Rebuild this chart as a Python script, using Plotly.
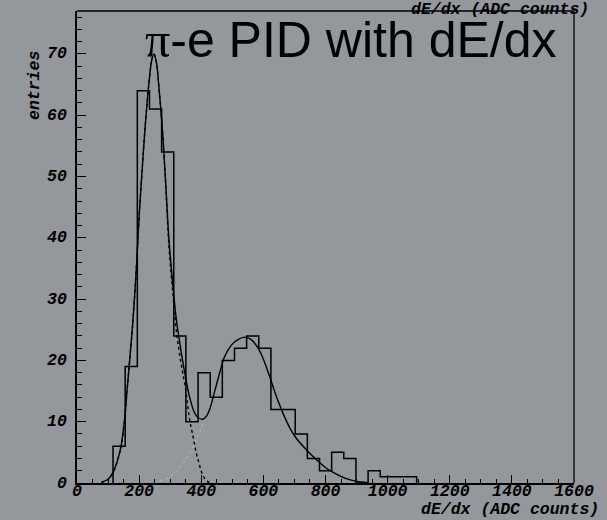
import plotly.graph_objects as go

# ---------------- data ----------------
bin_start = 116.0
bin_width = 39.1
counts = [6, 19, 64, 61, 54, 24, 10, 18, 14, 20, 22, 24, 22, 12, 12, 8, 4, 2, 5, 4, 0, 2, 1, 1, 1]

# total fit curve
fit_x = [78, 100, 115, 131, 142, 153, 161, 167, 180, 191, 200, 209, 220, 232, 240, 247, 255, 263,
         275, 286, 296, 309, 320, 336, 349, 362, 379, 392, 405, 418, 427, 443, 459, 475, 497, 518,
         540, 561, 583, 600, 620, 642, 663, 685, 706, 739, 771, 803, 835, 867, 900, 932]
fit_y = [0.1, 0.6, 1.6, 3.8, 6.0, 10.3, 15.0, 18.5, 26.4, 35.0, 43.5, 50.5, 58.5, 65.5, 68.8, 70.0, 68.8, 65.0,
         57.6, 48.5, 39.7, 32.1, 26.6, 21.2, 17.4, 14.1, 11.4, 10.6, 10.4, 11.0, 12.0, 14.9, 17.9, 20.6, 22.5, 23.4,
         23.8, 23.4, 22.0, 20.2, 17.4, 14.1, 11.4, 9.0, 7.3, 5.4, 3.8, 2.4, 1.45, 0.7, 0.26, 0.1]

# pion component (dotted)
pi_x = [78, 100, 115, 131, 142, 153, 161, 167, 180, 191, 200, 209, 220, 232, 240, 247, 255, 263,
        275, 286, 296, 309, 320, 335, 349, 362, 374, 384, 392, 400, 408, 416, 425, 435]
pi_y = [0.1, 0.6, 1.6, 3.8, 6.0, 10.3, 15.0, 18.5, 26.4, 35.0, 43.5, 50.5, 58.5, 65.5, 68.8, 70.0, 68.8, 65.0,
        57.6, 48.2, 38.6, 30.7, 24.7, 19.5, 15.5, 10.5, 7.5, 4.9, 3.4, 1.9, 1.0, 0.4, 0.12, 0.03]

# electron component (light dotted, left part)
e_x = [266, 293, 325, 357, 384, 411]
e_y = [0.4, 0.8, 2.2, 4.3, 7.1, 10.3]

x_range = [0, 1600]
y_range = [0, 77]
y_ticks = [0, 10, 20, 30, 40, 50, 60, 70]
title_text = '<span style="font-family:\'Liberation Serif\'">π</span>-e PID with dE/dx'
x_title = "dE/dx (ADC counts)"
y_title = "entries"

# ---------------- figure ----------------
edges = [bin_start + i * bin_width for i in range(len(counts) + 1)]
hx = [edges[0]] + edges[:-1] + [edges[-1], edges[-1]]
hy = [0] + counts + [counts[-1], 0]

bg = "rgb(148,151,156)"
mono = "Liberation Mono"
lab_font = dict(family=mono, size=16.5, color="black", weight="bold", style="italic")

fig = go.Figure()
fig.add_trace(go.Scatter(x=hx, y=hy, mode="lines", line=dict(shape="hv", color="black", width=1.5),
                         hoverinfo="skip"))
fig.add_trace(go.Scatter(x=e_x, y=e_y, mode="lines", line=dict(shape="spline", color="rgb(185,187,190)",
                         width=1, dash="dot"), hoverinfo="skip"))
fig.add_trace(go.Scatter(x=pi_x, y=pi_y, mode="lines", line=dict(shape="spline", color="black",
                         width=1.4, dash="dot"), hoverinfo="skip"))
fig.add_trace(go.Scatter(x=fit_x, y=fit_y, mode="lines", line=dict(shape="spline", color="black", width=1.4),
                         hoverinfo="skip"))

annotations = [
    dict(text=title_text, xref="paper", yref="paper", x=(143 - 77) / 497, y=(483 - 40) / 472,
         xanchor="left", yanchor="middle", showarrow=False,
         font=dict(family="Liberation Sans", size=50, color="black")),
    dict(text=x_title, xref="paper", yref="paper", x=(591 - 77) / 497, y=(483 - 10) / 472,
         xanchor="right", yanchor="middle", showarrow=False, font=lab_font),
    dict(text=x_title, xref="paper", yref="paper", x=(600 - 77) / 497, y=(483 - 509.5) / 472,
         xanchor="right", yanchor="middle", showarrow=False, font=lab_font, borderpad=0),
    dict(text=y_title, xref="paper", yref="paper", x=(34 - 77) / 497, y=(483 - 86) / 472,
         xanchor="center", yanchor="middle", showarrow=False, textangle=-90, font=lab_font),
]
for t in y_ticks:
    annotations.append(dict(text=str(t), xref="paper", yref="y", x=(69 - 77) / 497, y=t,
                            xanchor="right", yanchor="middle", showarrow=False, font=lab_font))

fig.update_layout(
    width=607, height=520,
    margin=dict(l=77, r=33, t=11, b=37),
    paper_bgcolor=bg, plot_bgcolor=bg,
    showlegend=False,
    xaxis=dict(range=x_range, showgrid=False, zeroline=False, showline=True, linecolor="black", linewidth=2.2,
               ticks="inside", ticklen=8, tickwidth=1.3, tickcolor="black", dtick=200, tick0=0,
               minor=dict(ticks="inside", ticklen=4, dtick=50, tickwidth=1.2, tickcolor="black"),
               tickfont=lab_font, ticklabelstandoff=-9),
    yaxis=dict(range=y_range, showgrid=False, zeroline=False, showline=True, linecolor="black", linewidth=2.2,
               ticks="inside", ticklen=9, tickwidth=1.3, tickcolor="black", tickvals=y_ticks,
               showticklabels=False,
               minor=dict(ticks="inside", ticklen=4.5, dtick=2, tickwidth=1.2, tickcolor="black")),
    shapes=[
        dict(type="line", xref="paper", yref="paper", x0=0, x1=1, y0=1, y1=1,
             line=dict(color="black", width=1.3)),
        dict(type="line", xref="paper", yref="paper", x0=1, x1=1, y0=0, y1=1,
             line=dict(color="black", width=1.3)),
    ],
    annotations=annotations,
)

fig.write_html("out.html")
